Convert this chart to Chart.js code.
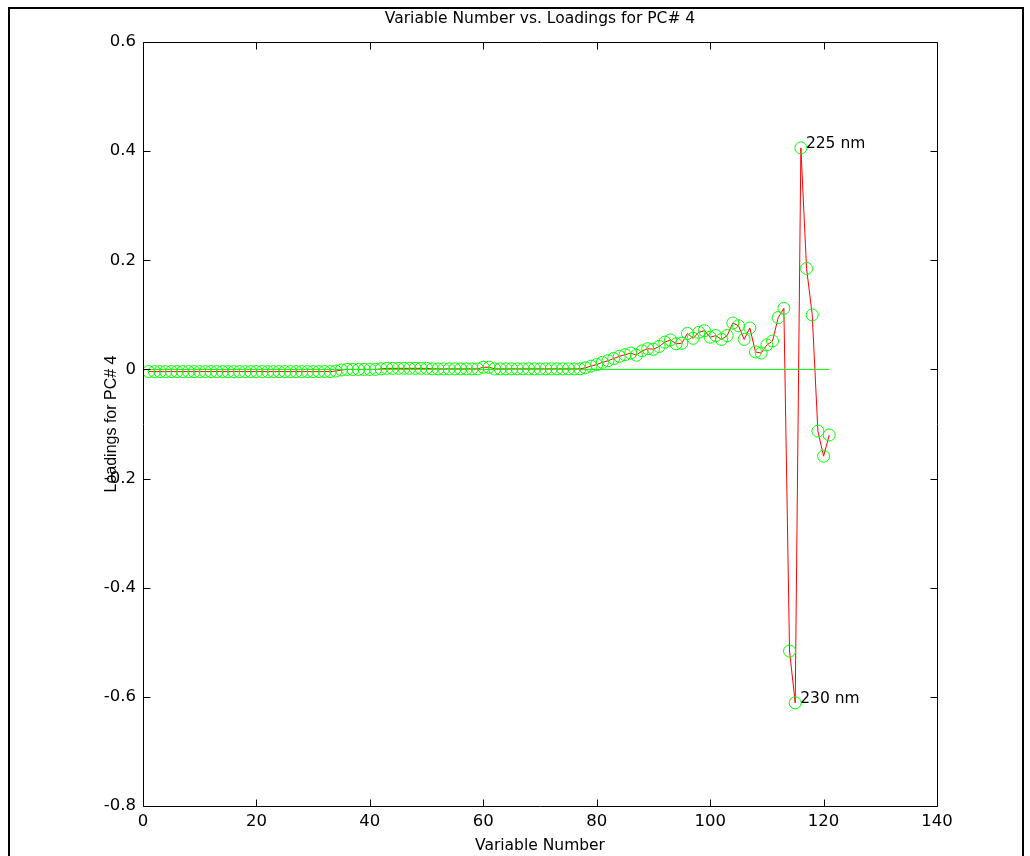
<!DOCTYPE html>
<html>
<head>
<meta charset="utf-8">
<script src="https://cdn.jsdelivr.net/npm/chart.js@4.4.1/dist/chart.umd.min.js"></script>
<style>
  html, body { margin: 0; padding: 0; background: #fff; overflow: hidden; }
  #wrap { position: relative; width: 1030px; height: 856px; }
  #c { position: absolute; left: 0; top: 0; }
  #frame { position: absolute; left: 8px; top: 7px; width: 1012px; height: 870px;
           border-top: 2px solid #000; border-left: 2px solid #000; border-right: 2px solid #000;
           pointer-events: none; }
</style>
</head>
<body>
<div id="wrap">
  <canvas id="c" width="1030" height="856"></canvas>
  <div id="frame"></div>
</div>
<script>
// ---- data ----
const titleText = 'Variable Number vs. Loadings for PC# 4';
const xAxisLabel = 'Variable Number';
const yAxisLabel = 'Loadings for PC# 4';
const xTicks = [0, 20, 40, 60, 80, 100, 120, 140];
const yTicks = [-0.8, -0.6, -0.4, -0.2, 0, 0.2, 0.4, 0.6];
// loadings for variables 1..121
const loadings = [
  -0.004, -0.004, -0.004, -0.004, -0.004, -0.004, -0.004, -0.004, -0.004, -0.004,
  -0.004, -0.004, -0.004, -0.004, -0.004, -0.004, -0.004, -0.004, -0.004, -0.004,
  -0.004, -0.004, -0.004, -0.004, -0.004, -0.004, -0.004, -0.004, -0.004, -0.004,
  -0.004, -0.004, -0.004, -0.003,
  -0.001, 0.000, 0.000, 0.000, 0.000, 0.000, 0.000, 0.001,
  0.002, 0.002, 0.002, 0.002, 0.002, 0.002, 0.002, 0.002,
  0.001, 0.001, 0.001, 0.001, 0.001, 0.001, 0.001, 0.001, 0.001,
  0.004, 0.004,
  0.001, 0.001, 0.001, 0.001, 0.001, 0.001, 0.001, 0.001, 0.001,
  0.001, 0.001, 0.001, 0.001, 0.001, 0.001,
  0.001, 0.003, 0.006, 0.009, 0.013, 0.016, 0.020, 0.024, 0.027, 0.030,
  0.026, 0.034, 0.038, 0.037, 0.042, 0.050, 0.054, 0.047, 0.048, 0.066,
  0.057, 0.068, 0.071, 0.059, 0.062, 0.055, 0.062, 0.085, 0.080, 0.055,
  0.076, 0.032, 0.030, 0.045, 0.052, 0.095, 0.112, -0.516, -0.611, 0.406,
  0.185, 0.100, -0.113, -0.159, -0.120
];
const zeroLineRange = [1, 121];
const annotations = [
  { variable: 116, text: '225 nm' },
  { variable: 115, text: '230 nm' }
];

// ---- build ----
const FONT = '"DejaVu Sans", Verdana, sans-serif';
const FONT_Y = '"Liberation Sans", Arial, sans-serif';
const points = loadings.map((v, i) => ({ x: i + 1, y: v }));
const zeroLine = zeroLineRange.map(x => ({ x: x, y: 0 }));

const PLOT = { left: 143, right: 937, top: 42, bottom: 806 };
const PAD_LEFT = 101;

const boxPlugin = {
  id: 'boxTicks',
  afterDraw(chart) {
    const ctx = chart.ctx;
    const a = chart.chartArea;
    const xs = chart.scales.x, ys = chart.scales.y;
    ctx.save();
    ctx.strokeStyle = '#000';
    ctx.lineWidth = 1;
    ctx.beginPath();
    const L = Math.round(a.left) + 0.5, R = Math.round(a.right) + 0.5;
    const T = Math.round(a.top) + 0.5, B = Math.round(a.bottom) + 0.5;
    ctx.rect(L, T, R - L, B - T);
    const tl = 7;
    xTicks.forEach(t => {
      const px = Math.round(xs.getPixelForValue(t)) + 0.5;
      ctx.moveTo(px, B); ctx.lineTo(px, B - tl);
      ctx.moveTo(px, T); ctx.lineTo(px, T + tl);
    });
    yTicks.forEach(t => {
      const py = Math.round(ys.getPixelForValue(t)) + 0.5;
      ctx.moveTo(L, py); ctx.lineTo(L + tl, py);
      ctx.moveTo(R, py); ctx.lineTo(R - tl, py);
    });
    ctx.stroke();
    ctx.restore();
  },
  afterDatasetsDraw(chart) {
    const ctx = chart.ctx;
    const xs = chart.scales.x, ys = chart.scales.y;
    ctx.save();
    ctx.fillStyle = '#000';
    ctx.font = '15.5px ' + FONT;
    ctx.textAlign = 'left';
    ctx.textBaseline = 'middle';
    annotations.forEach(an => {
      const v = loadings[an.variable - 1];
      const px = xs.getPixelForValue(an.variable);
      const py = ys.getPixelForValue(v);
      ctx.fillText(an.text, px + 5, py - 4);
    });
    ctx.restore();
  }
};

new Chart(document.getElementById('c'), {
  type: 'scatter',
  data: {
    datasets: [
      {
        data: points,
        showLine: true,
        borderColor: '#ff0000',
        borderWidth: 1,
        pointStyle: 'circle',
        pointRadius: 6,
        pointHoverRadius: 6,
        pointBorderColor: '#00ff00',
        pointBackgroundColor: 'rgba(0,0,0,0)',
        pointBorderWidth: 1,
        tension: 0,
        order: 2
      },
      {
        data: zeroLine,
        showLine: true,
        borderColor: '#00ff00',
        borderWidth: 1,
        pointRadius: 0,
        pointHoverRadius: 0,
        order: 1
      }
    ]
  },
  options: {
    responsive: false,
    animation: false,
    devicePixelRatio: 1,
    layout: { padding: { left: PAD_LEFT, right: 1030 - PLOT.right, top: 0, bottom: 0 } },
    plugins: {
      legend: { display: false },
      tooltip: { enabled: false },
      title: {
        display: true,
        fullSize: false,
        text: titleText,
        color: '#000',
        font: { family: FONT, size: 15.5, weight: 'normal' },
        padding: { top: 10, bottom: PLOT.top - 10 - 18.6 }
      }
    },
    scales: {
      x: {
        type: 'linear',
        min: 0, max: 140,
        afterBuildTicks(scale) { scale.ticks = xTicks.map(v => ({ value: v })); },
        afterFit(scale) { scale.height = 856 - PLOT.bottom; },
        ticks: {
          color: '#000',
          font: { family: FONT, size: 16.5 },
          padding: 6,
          maxRotation: 0,
          callback: v => String(v)
        },
        grid: { display: false, drawTicks: false },
        border: { display: false },
        title: {
          display: true,
          text: xAxisLabel,
          color: '#000',
          font: { family: FONT, size: 15.5 },
          padding: { top: 0, bottom: 0.7 }
        }
      },
      y: {
        type: 'linear',
        min: -0.8, max: 0.6,
        afterBuildTicks(scale) { scale.ticks = yTicks.map(v => ({ value: v })); },
        afterFit(scale) { scale.width = PLOT.left - PAD_LEFT; },
        ticks: {
          color: '#000',
          font: { family: FONT, size: 16.5 },
          padding: 7,
          callback: v => String(Math.round(v * 10) / 10)
        },
        grid: { display: false, drawTicks: false },
        border: { display: false },
        title: {
          display: true,
          text: yAxisLabel,
          color: '#000',
          font: { family: FONT_Y, size: 16 },
          padding: { top: 0.5, bottom: 0 }
        }
      }
    }
  },
  plugins: [boxPlugin]
});
</script>
</body>
</html>
